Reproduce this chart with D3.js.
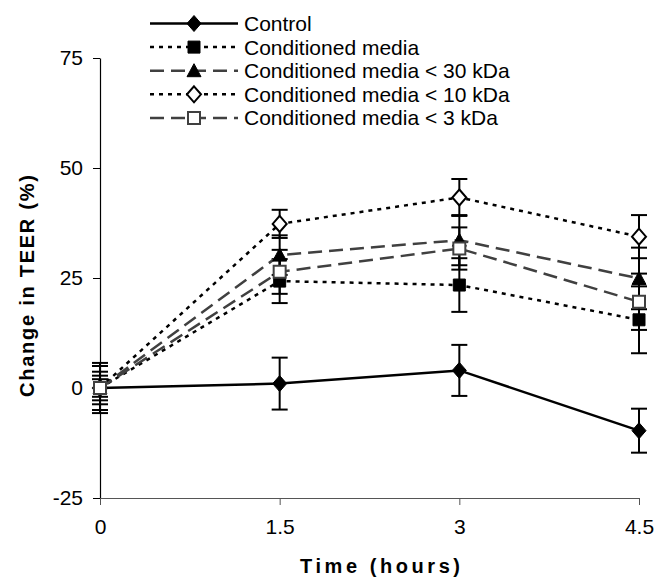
<!DOCTYPE html>
<html lang="en">
<head>
<meta charset="utf-8" />
<title>Change in TEER</title>
<style>
  body { margin: 0; padding: 0; background: #fff; }
  svg { display: block; font-family: "Liberation Sans", Arial, sans-serif; }
  .tick-label { font-size: 21px; fill: #000; }
  .axis-title { font-size: 20px; font-weight: bold; fill: #000; }
  .legend text { font-size: 21px; fill: #000; }
</style>
</head>
<body>
<div id="chart"></div>
<script src="https://d3js.org/d3.v7.min.js"></script>
<script>
const times = [0, 1.5, 3, 4.5];
const yTicks = [-25, 0, 25, 50, 75];

const seriesNames = ['Control', 'Conditioned media', 'Conditioned media < 30 kDa',
  'Conditioned media < 10 kDa', 'Conditioned media < 3 kDa'];

const control = [0, 1, 4, -9.7];
const controlErr = [5.7, 5.9, 5.8, 5];
const cm = [0, 24.3, 23.4, 15.5];
const cmErr = [3.7, 5, 6.1, 7.6];
const cm30 = [0, 30.2, 33.6, 24.9];
const cm30Err = [2, 4.5, 5.7, 7];
const cm10 = [0, 37.3, 43.3, 34.4];
const cm10Err = [5, 3.2, 4.2, 4.9];
const cm3 = [0, 26.4, 31.7, 19.6];
const cm3Err = [2.8, 5, 4.8, 6.4];

// styling per series (kept apart from the values)
const styles = [
  { color: '#000', dash: null, marker: 'diamond', fill: '#000' },
  { color: '#000', dash: '4,5', marker: 'square', fill: '#000' },
  { color: '#404040', dash: '14,7', marker: 'triangle', fill: '#000' },
  { color: '#000', dash: '4,5', marker: 'diamond', fill: '#fff' },
  { color: '#404040', dash: '14,7', marker: 'square', fill: '#fff', stroke: '#404040' }
];

const series = [
  { name: seriesNames[0], values: control, errs: controlErr },
  { name: seriesNames[1], values: cm, errs: cmErr },
  { name: seriesNames[2], values: cm30, errs: cm30Err },
  { name: seriesNames[3], values: cm10, errs: cm10Err },
  { name: seriesNames[4], values: cm3, errs: cm3Err }
].map((s, i) => Object.assign(s, styles[i]));

const width = 656, height = 578;
const svg = d3.select('#chart').append('svg')
    .attr('width', width)
    .attr('height', height);

const x = d3.scaleLinear().domain([0, 4.5]).range([100, 639]);
const y = d3.scaleLinear().domain([-25, 75]).range([498, 58]);

// axes
const yAxis = svg.append('g').attr('transform', `translate(${x(0)},0)`)
    .call(d3.axisLeft(y).tickValues(yTicks).tickSize(7).tickSizeOuter(0).tickPadding(10)
      .tickFormat(d => String(d)));
yAxis.select('.domain').attr('stroke', '#000').attr('stroke-width', 1.2);
yAxis.selectAll('text').attr('class', 'tick-label').attr('font-size', null).attr('font-family', null);

const xAxis = svg.append('g').attr('transform', `translate(0,${y(-25)})`)
    .call(d3.axisBottom(x).tickValues(times).tickSize(7).tickSizeOuter(0).tickPadding(14)
      .tickFormat(d => String(d)));
xAxis.select('.domain').attr('stroke', '#555').attr('stroke-width', 1.2);
xAxis.selectAll('.tick line').attr('stroke', '#555');
xAxis.selectAll('text').attr('class', 'tick-label').attr('font-size', null).attr('font-family', null);

svg.append('text')
    .attr('class', 'axis-title')
    .attr('x', 380).attr('y', 573)
    .attr('text-anchor', 'middle')
    .attr('textLength', 160).attr('lengthAdjust', 'spacing')
    .text('Time (hours)');

svg.append('text')
    .attr('class', 'axis-title')
    .attr('transform', 'translate(34,286) rotate(-90)')
    .attr('text-anchor', 'middle')
    .attr('textLength', 222).attr('lengthAdjust', 'spacing')
    .text('Change in TEER (%)');

// marker shapes, half sizes in px
const shapes = {
  diamond: 'M0,-8L7,0L0,8L-7,0Z',
  square: 'M-6,-6H6V6H-6Z',
  triangle: 'M0,-7L7,6H-7Z'
};

function drawMarker(g, s, cx, cy) {
  g.append('path')
      .attr('d', shapes[s.marker])
      .attr('transform', `translate(${cx},${cy})`)
      .attr('fill', s.fill)
      .attr('stroke', s.stroke || '#000')
      .attr('stroke-width', s.fill === '#fff' ? 2 : 1)
      .attr('stroke-linejoin', 'miter');
}

const line = d3.line().x((d, i) => x(times[i])).y(d => y(d));

series.forEach(s => {
  const g = svg.append('g');
  g.append('path')
      .attr('d', line(s.values))
      .attr('fill', 'none')
      .attr('stroke', s.color)
      .attr('stroke-width', 2.5)
      .attr('stroke-dasharray', s.dash);

  s.values.forEach((v, i) => {
    const cx = x(times[i]);
    const e = s.errs[i];
    g.append('line')
        .attr('x1', cx).attr('x2', cx)
        .attr('y1', y(v - e)).attr('y2', y(v + e))
        .attr('stroke', '#000').attr('stroke-width', 2);
    [v - e, v + e].forEach(c => {
      g.append('line')
          .attr('x1', cx - 8).attr('x2', cx + 8)
          .attr('y1', y(c)).attr('y2', y(c))
          .attr('stroke', '#000').attr('stroke-width', 2);
    });
  });
  s.values.forEach((v, i) => drawMarker(g, s, x(times[i]), y(v)));
});

// legend
const legend = svg.append('g').attr('class', 'legend');
series.forEach((s, i) => {
  const ly = 23.5 + i * 23.6;
  legend.append('line')
      .attr('x1', 150).attr('x2', 238)
      .attr('y1', ly).attr('y2', ly)
      .attr('stroke', s.color)
      .attr('stroke-width', 2.5)
      .attr('stroke-dasharray', s.dash);
  drawMarker(legend, s, 194, ly);
  legend.append('text')
      .attr('x', 244).attr('y', ly)
      .attr('dy', '0.36em')
      .text(s.name);
});
</script>
</body>
</html>
